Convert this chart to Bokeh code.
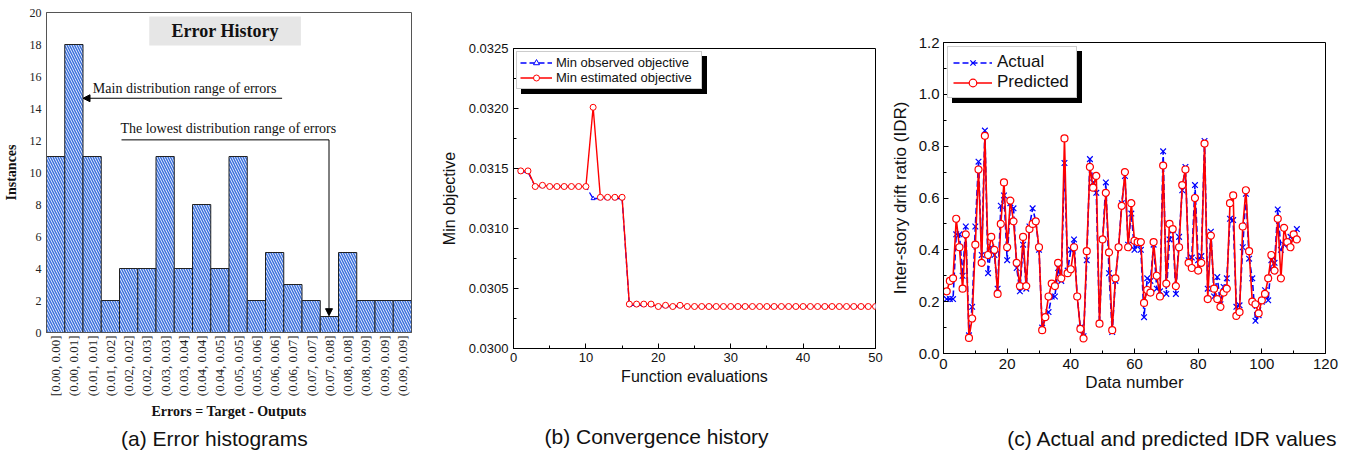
import math
from bokeh.plotting import figure
from bokeh.layouts import row, column
from bokeh.models import (ColumnDataSource, FixedTicker, Range1d, Label, Arrow, NormalHead,
                          Legend, LegendItem, BoxAnnotation, PrintfTickFormatter, LinearAxis)
from bokeh.embed import file_html
from bokeh.resources import INLINE

# ---------------- data ----------------
# (a) error histogram
bin_labels = ["[0.00, 0.00]", "(0.00, 0.01]", "(0.01, 0.01]", "(0.01, 0.02]", "(0.02, 0.02]",
              "(0.02, 0.03]", "(0.03, 0.03]", "(0.03, 0.04]", "(0.04, 0.04]", "(0.04, 0.05]",
              "(0.05, 0.05]", "(0.05, 0.06]", "(0.06, 0.06]", "(0.06, 0.07]", "(0.07, 0.07]",
              "(0.07, 0.08]", "(0.08, 0.08]", "(0.08, 0.09]", "(0.09, 0.09]", "(0.09, 0.09]"]
bin_counts = [11, 18, 11, 2, 4, 4, 11, 4, 8, 4, 11, 2, 5, 3, 2, 1, 5, 2, 2, 2]
hist_yticks = [0, 2, 4, 6, 8, 10, 12, 14, 16, 18, 20]

# (b) convergence history
evals = list(range(1, 51))
min_observed = [0.03147, 0.03147, 0.03135, 0.03135, 0.03135, 0.03135, 0.03135, 0.03135, 0.03135, 0.03135,
                0.03125, 0.03125, 0.03125, 0.03125, 0.03125, 0.03036, 0.03036, 0.03036, 0.03036, 0.03035,
                0.03035, 0.03035, 0.03035, 0.03035, 0.03035, 0.03035, 0.03035, 0.03035, 0.03035, 0.03035,
                0.03035, 0.03035, 0.03035, 0.03035, 0.03035, 0.03035, 0.03035, 0.03035, 0.03035, 0.03035,
                0.03035, 0.03035, 0.03035, 0.03035, 0.03035, 0.03035, 0.03035, 0.03035, 0.03035, 0.03035]
min_estimated = [0.03148, 0.03148, 0.03135, 0.03136, 0.03135, 0.03135, 0.03135, 0.03135, 0.03135, 0.03135,
                 0.03201, 0.03126, 0.03126, 0.03126, 0.03126, 0.03037, 0.03037, 0.03037, 0.03037, 0.03035,
                 0.03036, 0.03035, 0.03036, 0.03035, 0.03035, 0.03035, 0.03035, 0.03035, 0.03035, 0.03035,
                 0.03035, 0.03035, 0.03035, 0.03035, 0.03035, 0.03035, 0.03035, 0.03035, 0.03035, 0.03035,
                 0.03035, 0.03035, 0.03035, 0.03035, 0.03035, 0.03035, 0.03035, 0.03035, 0.03035, 0.03035]
conv_xticks = [0, 10, 20, 30, 40, 50]
conv_xminor = [5, 15, 25, 35, 45]
conv_yticks = [0.0300, 0.0305, 0.0310, 0.0315, 0.0320, 0.0325]
conv_yminor = [0.03025, 0.03075, 0.03125, 0.03175, 0.03225]

# (c) actual vs predicted IDR
data_number = list(range(1, 112))
idr_actual = [0.21, 0.21, 0.21, 0.46, 0.46, 0.30, 0.49, 0.07, 0.18, 0.49,
              0.74, 0.38, 0.86, 0.31, 0.41, 0.38, 0.25, 0.57, 0.61, 0.36,
              0.58, 0.56, 0.33, 0.24, 0.42, 0.25, 0.49, 0.56, 0.51, 0.40,
              0.10, 0.14, 0.16, 0.22, 0.22, 0.33, 0.28, 0.735, 0.32, 0.40,
              0.44, 0.22, 0.10, 0.067, 0.36, 0.75, 0.66, 0.62, 0.115, 0.44,
              0.66, 0.31, 0.083, 0.28, 0.41, 0.58, 0.685, 0.42, 0.54, 0.40,
              0.42, 0.40, 0.14, 0.29, 0.28, 0.42, 0.25, 0.24, 0.78, 0.23,
              0.44, 0.475, 0.23, 0.45, 0.63, 0.72, 0.36, 0.37, 0.65, 0.36,
              0.376, 0.82, 0.25, 0.47, 0.22, 0.295, 0.19, 0.257, 0.29, 0.52,
              0.515, 0.18, 0.186, 0.41, 0.616, 0.366, 0.29, 0.126, 0.148, 0.20,
              0.244, 0.205, 0.36, 0.35, 0.556, 0.40, 0.42, 0.43, 0.45, 0.44, 0.48]
idr_predicted = [0.24, 0.28, 0.29, 0.52, 0.41, 0.25, 0.46, 0.06, 0.135, 0.42,
                 0.71, 0.35, 0.84, 0.38, 0.45, 0.40, 0.23, 0.50, 0.66, 0.41,
                 0.59, 0.51, 0.35, 0.26, 0.45, 0.26, 0.48, 0.50, 0.51, 0.41,
                 0.09, 0.14, 0.22, 0.27, 0.26, 0.35, 0.29, 0.83, 0.31, 0.325,
                 0.41, 0.22, 0.095, 0.058, 0.395, 0.72, 0.64, 0.685, 0.115, 0.44,
                 0.62, 0.39, 0.09, 0.29, 0.41, 0.57, 0.70, 0.41, 0.58, 0.435,
                 0.43, 0.43, 0.195, 0.245, 0.235, 0.43, 0.30, 0.22, 0.725, 0.27,
                 0.50, 0.48, 0.26, 0.41, 0.65, 0.71, 0.35, 0.33, 0.60, 0.32,
                 0.35, 0.81, 0.21, 0.455, 0.25, 0.21, 0.18, 0.235, 0.25, 0.58,
                 0.61, 0.145, 0.16, 0.49, 0.63, 0.395, 0.20, 0.19, 0.155, 0.205,
                 0.23, 0.29, 0.38, 0.32, 0.52, 0.29, 0.485, 0.43, 0.41, 0.46, 0.44]
idr_xticks = [0, 20, 40, 60, 80, 100, 120]
idr_xminor = [10, 30, 50, 70, 90, 110]
idr_yticks = [0.0, 0.2, 0.4, 0.6, 0.8, 1.0, 1.2]
idr_yminor = [0.1, 0.3, 0.5, 0.7, 0.9, 1.1]

SERIF = "Liberation Serif"
SANS = "Liberation Sans"
H = 452
NB = "\u00a0"


def caption(p, text, standoff, pad_left=0, pad_right=0):
    ax = LinearAxis(ticker=FixedTicker(ticks=[]), axis_line_color=None,
                    major_tick_in=0, major_tick_out=0, minor_tick_in=0, minor_tick_out=0,
                    major_label_standoff=0, axis_label=NB * pad_left + text + NB * pad_right,
                    axis_label_standoff=standoff,
                    axis_label_text_font=SANS, axis_label_text_font_size="21px",
                    axis_label_text_font_style="normal", axis_label_text_color="#111")
    p.add_layout(ax, "below")


def legend_with_shadow(p, entries, margin, offset, **kw):
    # black copy of the legend, shifted by `offset`, drawn first as a drop shadow
    shadow = Legend(items=[LegendItem(label=NB, renderers=r) for _, r in entries],
                    location="top_left", margin=margin + offset,
                    background_fill_color="black", background_fill_alpha=1.0,
                    border_line_color="black", label_text_color="black", **kw)
    p.add_layout(shadow)
    main = Legend(items=[LegendItem(label=t, renderers=r) for t, r in entries],
                  location="top_left", margin=margin, background_fill_color="white",
                  background_fill_alpha=1.0, border_line_color="#999999", label_text_color="#111", **kw)
    p.add_layout(main)


# ---------------- (a) ----------------
pa = figure(width=437, height=H, x_range=Range1d(-0.5, 19.5), y_range=Range1d(0, 20),
            output_backend="svg", toolbar_location=None,
            min_border_left=38, min_border_right=26, min_border_top=12, min_border_bottom=H - 332)
src_a = ColumnDataSource(dict(x=list(range(len(bin_counts))), top=bin_counts))
pa.vbar(x="x", top="top", bottom=0, width=1.0, source=src_a,
        fill_color="#f2f6fe", hatch_pattern="left_diagonal_line", hatch_color="#3d72dd",
        hatch_scale=5, hatch_weight=1.5, line_color="#222222", line_width=1)
pa.xgrid.visible = False
pa.ygrid.visible = False
pa.outline_line_color = "#555555"
pa.xaxis.ticker = FixedTicker(ticks=list(range(len(bin_labels))))
pa.xaxis.major_label_overrides = {i: lab for i, lab in enumerate(bin_labels)}
pa.xaxis.major_label_orientation = math.pi / 2
pa.yaxis.ticker = FixedTicker(ticks=hist_yticks)
for ax in (pa.xaxis[0], pa.yaxis[0]):
    ax.major_tick_in = 0
    ax.major_tick_out = 0
    ax.minor_tick_in = 0
    ax.minor_tick_out = 0
    ax.axis_line_color = "#555555"
    ax.major_label_text_font = SERIF
    ax.major_label_text_color = "#222"
    ax.axis_label_text_font = SERIF
    ax.axis_label_text_font_style = "bold"
    ax.axis_label_text_font_size = "14px"
    ax.axis_label_text_color = "#111"
pa.xaxis.major_label_text_font_size = "13px"
pa.yaxis.major_label_text_font_size = "12px"
pa.xaxis.major_label_standoff = 3
pa.yaxis.major_label_standoff = 5
pa.xaxis.axis_label = "Errors = Target - Outputs"
pa.yaxis.axis_label = "Instances"
pa.xaxis.axis_label_standoff = 5
pa.yaxis.axis_label_standoff = 8

pa.add_layout(BoxAnnotation(left=5.13, right=13.44, bottom=17.94, top=19.75,
                            fill_color="#e6e6e6", fill_alpha=1.0, line_color=None))
pa.add_layout(Label(x=9.29, y=18.85, text="Error History", text_align="center", text_baseline="middle",
                    text_font=SERIF, text_font_style="bold", text_font_size="18px", text_color="#111"))
pa.add_layout(Label(x=2.04, y=15.23, text="Main distribution range of errors", text_align="left",
                    text_baseline="middle", text_font=SERIF, text_font_size="14px", text_color="#111"))
pa.add_layout(Arrow(end=NormalHead(size=7, fill_color="black", line_color="black"),
                    x_start=12.41, y_start=14.64, x_end=1.5, y_end=14.64,
                    line_color="black", line_width=1))
pa.add_layout(Label(x=3.55, y=12.73, text="The lowest distribution range of errors", text_align="left",
                    text_baseline="middle", text_font=SERIF, text_font_size="14px", text_color="#111"))
pa.add_layout(Arrow(end=None, x_start=3.61, y_start=12.04, x_end=14.98, y_end=12.04,
                    line_color="black", line_width=1))
pa.add_layout(Arrow(end=NormalHead(size=7, fill_color="black", line_color="black"),
                    x_start=14.98, y_start=12.04, x_end=14.98, y_end=1.05,
                    line_color="black", line_width=1))
caption(pa, "(a) Error histograms", 4, pad_right=5)


def style_sans(p, tick_size, label_size):
    p.xgrid.visible = False
    p.ygrid.visible = False
    p.outline_line_color = "black"
    p.outline_line_width = 1
    for ax in (p.xaxis[0], p.yaxis[0]):
        ax.major_tick_in = 5
        ax.major_tick_out = 0
        ax.minor_tick_in = 3
        ax.minor_tick_out = 0
        ax.axis_line_color = "black"
        ax.major_tick_line_color = "black"
        ax.minor_tick_line_color = "black"
        ax.major_label_text_font = SANS
        ax.major_label_text_font_size = tick_size
        ax.major_label_text_color = "#111"
        ax.axis_label_text_font = SANS
        ax.axis_label_text_font_style = "normal"
        ax.axis_label_text_font_size = label_size
        ax.axis_label_text_color = "#111"


# ---------------- (b) ----------------
pb = figure(width=450, height=H, x_range=Range1d(0, 50), y_range=Range1d(0.0300, 0.0325),
            output_backend="svg", toolbar_location=None,
            min_border_left=67, min_border_right=12, min_border_top=48, min_border_bottom=H - 348)
style_sans(pb, "13px", "16px")
pb.xaxis.ticker = FixedTicker(ticks=conv_xticks, minor_ticks=conv_xminor)
pb.yaxis.ticker = FixedTicker(ticks=conv_yticks, minor_ticks=conv_yminor)
pb.yaxis.formatter = PrintfTickFormatter(format="%.4f")
pb.xaxis.axis_label = "Function evaluations"
pb.yaxis.axis_label = "Min objective"
pb.xaxis.major_label_standoff = 4
pb.yaxis.major_label_standoff = 5
pb.xaxis.axis_label_standoff = 3
pb.yaxis.axis_label_standoff = 8

src_b = ColumnDataSource(dict(x=evals, obs=min_observed, est=min_estimated))
ob_line = pb.line("x", "obs", source=src_b, line_color="blue", line_width=1.3, line_dash="6 3")
ob_pts = pb.scatter("x", "obs", source=src_b, marker="triangle", size=4, line_color="blue",
                    fill_color="white", line_width=1)
es_line = pb.line("x", "est", source=src_b, line_color="red", line_width=1.4)
es_pts = pb.scatter("x", "est", source=src_b, marker="circle", size=6, line_color="red",
                    fill_color="white", line_width=1)

legend_with_shadow(pb, [("Min observed objective", [ob_line, ob_pts]),
                        ("Min estimated objective", [es_line, es_pts])],
                   margin=3, offset=5, padding=3, spacing=0, label_height=15, glyph_height=15,
                   glyph_width=32, label_standoff=4, label_width=142, label_text_font=SANS,
                   label_text_font_size="13px")
caption(pb, "(b) Convergence history", 37, pad_right=13)

# ---------------- (c) ----------------
pc = figure(width=454, height=H, x_range=Range1d(0, 120), y_range=Range1d(0, 1.2),
            output_backend="svg", toolbar_location=None,
            min_border_left=49, min_border_right=16, min_border_top=42, min_border_bottom=H - 353)
style_sans(pc, "15px", "17px")
pc.xaxis.ticker = FixedTicker(ticks=idr_xticks, minor_ticks=idr_xminor)
pc.yaxis.ticker = FixedTicker(ticks=idr_yticks, minor_ticks=idr_yminor)
pc.yaxis.formatter = PrintfTickFormatter(format="%.1f")
pc.xaxis.axis_label = "Data number"
pc.yaxis.axis_label = "Inter-story drift ratio (IDR)"
pc.xaxis.major_label_standoff = 5
pc.yaxis.major_label_standoff = 4
pc.xaxis.axis_label_standoff = 1
pc.yaxis.axis_label_standoff = 6

src_c = ColumnDataSource(dict(x=data_number, act=idr_actual, pred=idr_predicted))
ac_line = pc.line("x", "act", source=src_c, line_color="blue", line_width=1.6, line_dash="6 3")
ac_pts = pc.scatter("x", "act", source=src_c, marker="x", size=8, line_color="blue", line_width=1.2)
pr_line = pc.line("x", "pred", source=src_c, line_color="red", line_width=1.6)
pr_pts = pc.scatter("x", "pred", source=src_c, marker="circle", size=7, line_color="red",
                    fill_color="white", line_width=1.2)

legend_with_shadow(pc, [("Actual", [ac_line, ac_pts]), ("Predicted", [pr_line, pr_pts])],
                   margin=4, offset=5, padding=5, spacing=0, label_height=19, glyph_height=19,
                   glyph_width=39, label_standoff=5, label_width=74, label_text_font=SANS,
                   label_text_font_size="17px")
caption(pc, "(c) Actual and predicted IDR values", 32, pad_left=13)

layout = row(column(pa), column(pb), column(pc))
open("out.html", "w").write(file_html(layout, INLINE))
